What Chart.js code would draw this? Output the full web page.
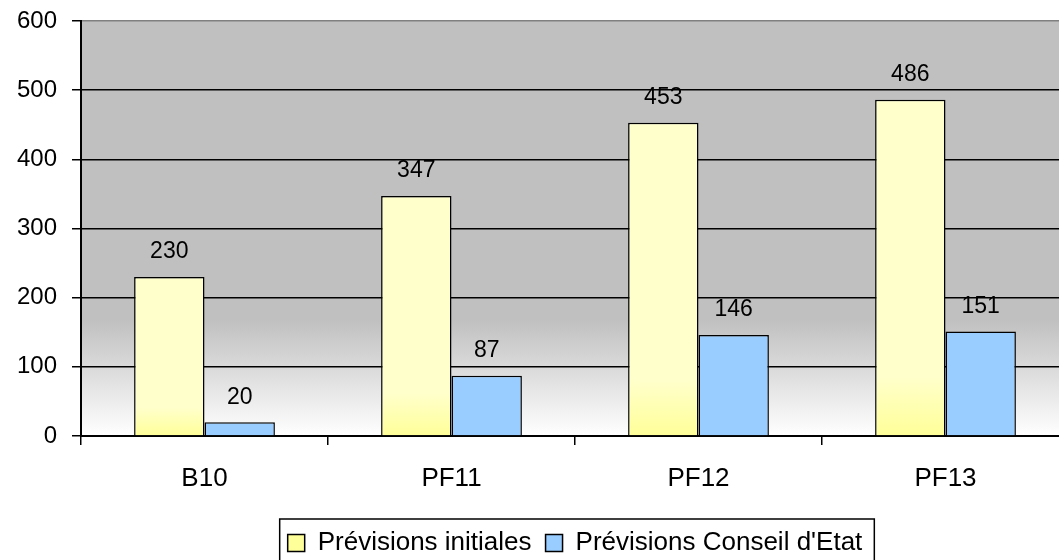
<!DOCTYPE html>
<html lang="fr">
<head>
<meta charset="UTF-8">
<title>Prévisions initiales / Conseil d'Etat</title>
<script src="https://cdn.jsdelivr.net/npm/chart.js"></script>
<style>
  html, body { margin: 0; padding: 0; background: #fff; overflow: hidden; }
  .frame { width: 1059px; height: 560px; overflow: hidden; position: relative; }
  .frame canvas { position: absolute; left: 0; top: 0; }
</style>
</head>
<body>
<div class="frame"><canvas id="chart" width="1157" height="580"></canvas></div>
<script>
const categories = ["B10", "PF11", "PF12", "PF13"];
const initiales = [230, 347, 453, 486];
const conseilEtat = [20, 87, 146, 151];
const yTicks = [0, 100, 200, 300, 400, 500, 600];
const seriesNames = ["Prévisions initiales", "Prévisions Conseil d'Etat"];

const FONT = "'Liberation Sans', Arial, sans-serif";

// grey-to-white plot background
const plotBackground = {
  id: 'plotBackground',
  beforeDraw(chart) {
    const { ctx, chartArea: a } = chart;
    const g = ctx.createLinearGradient(0, a.top, 0, a.bottom);
    g.addColorStop(0, '#c0c0c0');
    g.addColorStop(0.72, '#c0c0c0');
    g.addColorStop(1, '#ffffff');
    ctx.save();
    ctx.fillStyle = g;
    ctx.fillRect(a.left, a.top, a.right - a.left, a.bottom - a.top);
    ctx.restore();
  }
};

// values above the bars
const valueLabels = {
  id: 'valueLabels',
  afterDatasetsDraw(chart) {
    const ctx = chart.ctx;
    ctx.save();
    ctx.font = "23px " + FONT;
    ctx.fillStyle = '#000';
    ctx.textAlign = 'center';
    ctx.textBaseline = 'middle';
    chart.data.datasets.forEach((ds, i) => {
      chart.getDatasetMeta(i).data.forEach((bar, j) => {
        ctx.fillText(ds.data[j], bar.x, bar.y - 25);
      });
    });
    ctx.restore();
  }
};

// frame round the legend
const legendFrame = {
  id: 'legendFrame',
  afterDraw(chart) {
    const boxes = chart.legend && chart.legend.legendHitBoxes;
    if (!boxes || !boxes.length) return;
    const left = Math.min(...boxes.map(b => b.left)) - 8;
    const right = Math.max(...boxes.map(b => b.left + b.width)) + 12;
    const mid = boxes[0].top + boxes[0].height / 2;
    const ctx = chart.ctx;
    ctx.save();
    ctx.strokeStyle = '#000';
    ctx.lineWidth = 1.5;
    ctx.strokeRect(left, mid - 24, right - left, 48);
    ctx.restore();
  }
};

function yellowFill(c) {
  if (c.dataIndex === undefined || !c.chart.chartArea) return '#ffffcc';
  const y = c.chart.scales.y;
  const top = y.getPixelForValue(c.raw);
  const base = y.getPixelForValue(0);
  const g = c.chart.ctx.createLinearGradient(0, top, 0, base);
  g.addColorStop(0, '#ffffcc');
  g.addColorStop(0.82, '#ffffcc');
  g.addColorStop(1, '#ffff99');
  return g;
}

new Chart(document.getElementById('chart'), {
  type: 'bar',
  data: {
    labels: categories,
    datasets: [
      {
        label: seriesNames[0],
        data: initiales,
        backgroundColor: yellowFill,
        borderColor: '#000',
        borderWidth: 1.5
      },
      {
        label: seriesNames[1],
        data: conseilEtat,
        backgroundColor: '#99ccff',
        borderColor: '#000',
        borderWidth: 1.5
      }
    ]
  },
  options: {
    responsive: false,
    animation: false,
    categoryPercentage: 0.57,
    barPercentage: 1.0,
    layout: { padding: { top: 21, right: 88, bottom: 14, left: 0 } },
    plugins: {
      tooltip: { enabled: false },
      legend: {
        position: 'bottom',
        fullSize: false,
        labels: {
          color: '#000',
          font: { family: FONT, size: 26 },
          boxWidth: 17,
          boxHeight: 17,
          padding: 14
        }
      }
    },
    scales: {
      x: {
        offset: true,
        grid: {
          offset: true,
          drawOnChartArea: false,
          drawTicks: true,
          tickLength: 9,
          color: '#000',
          lineWidth: 1.5
        },
        border: { color: '#000', width: 2 },
        ticks: {
          color: '#000',
          font: { family: FONT, size: 26 },
          padding: 18
        },
        afterFit(s) { s.height = 80; }
      },
      y: {
        min: 0,
        max: 600,
        afterBuildTicks(s) { s.ticks = yTicks.map(v => ({ value: v })); },
        afterFit(s) { s.width = 81; s.paddingTop = 0; s.paddingBottom = 0; },
        grid: {
          color: c => (c.tick && c.tick.value === 600 ? '#808080' : '#000'),
          tickColor: '#000',
          lineWidth: 1.5,
          tickLength: 9
        },
        border: { color: '#000', width: 2 },
        ticks: {
          color: '#000',
          font: { family: FONT, size: 24 },
          padding: 15
        }
      }
    }
  },
  plugins: [plotBackground, valueLabels, legendFrame]
});
</script>
</body>
</html>
